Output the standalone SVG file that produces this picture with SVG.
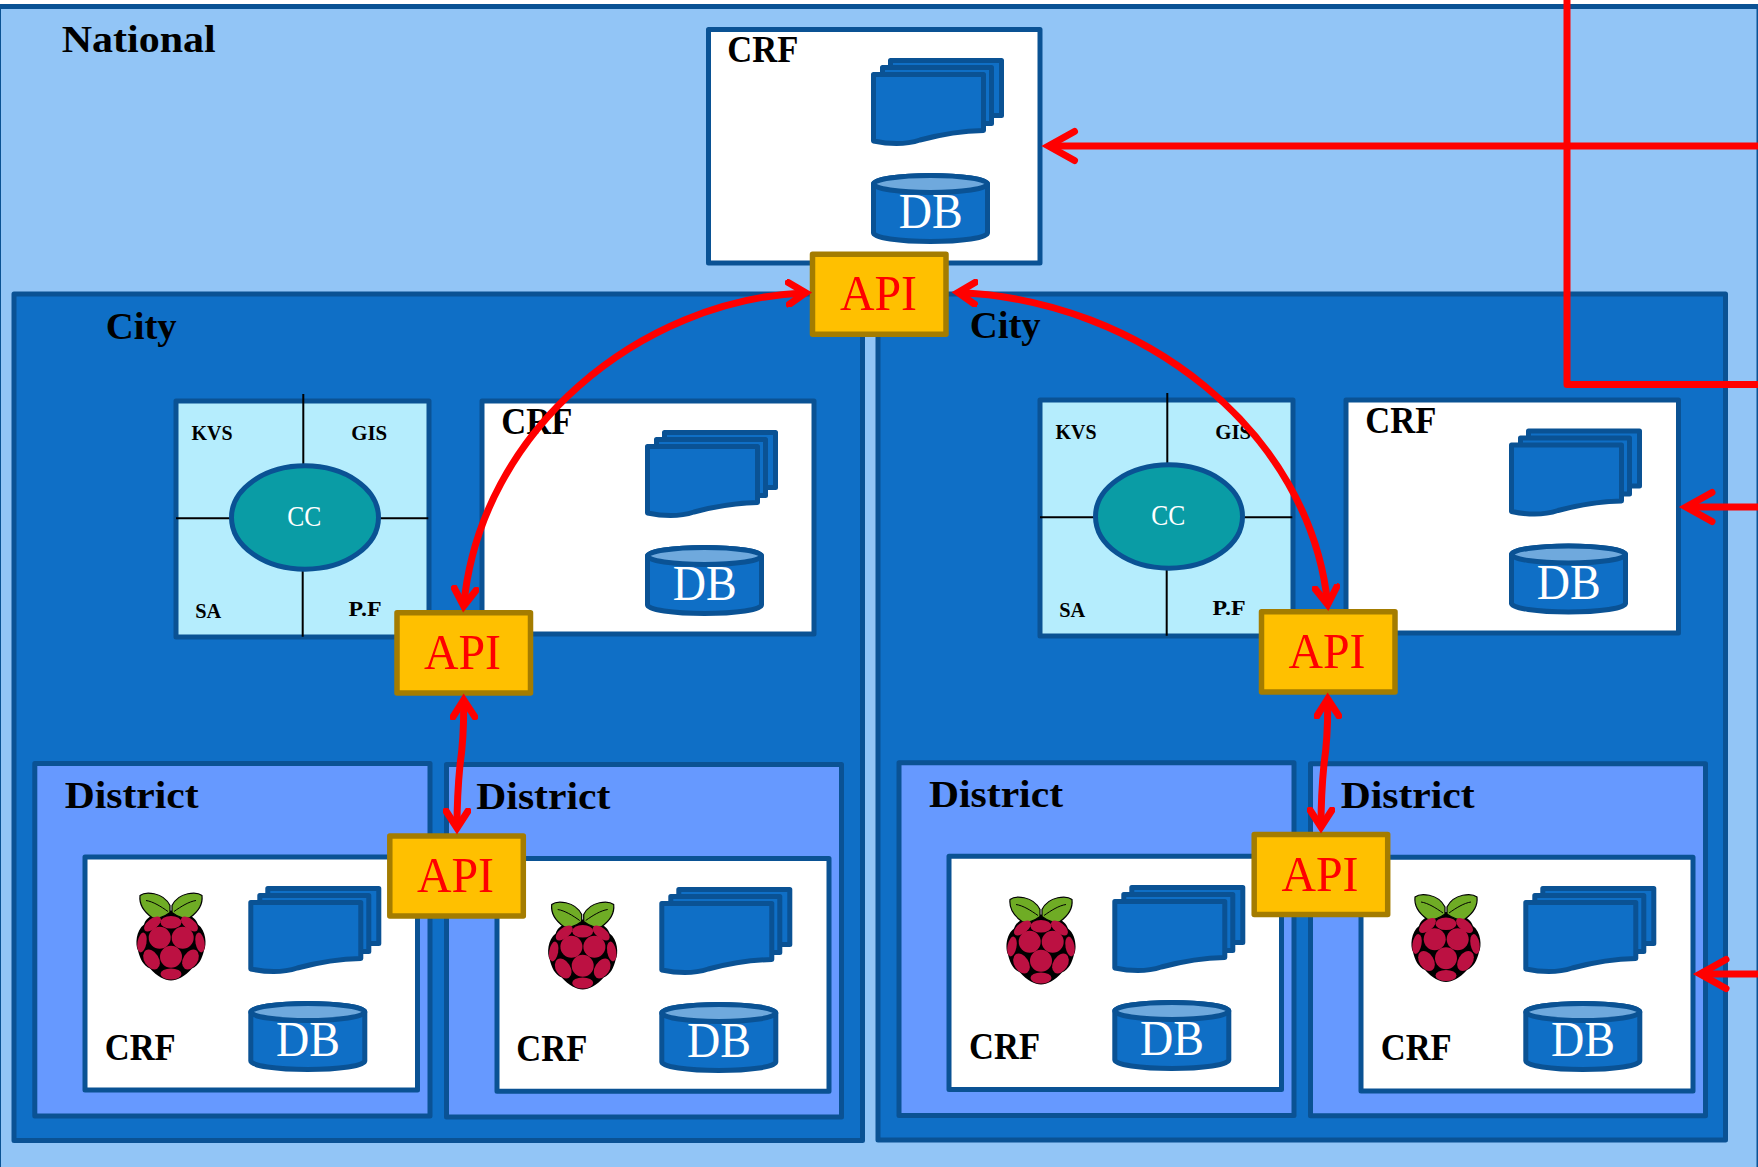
<svg xmlns="http://www.w3.org/2000/svg" xmlns:xlink="http://www.w3.org/1999/xlink" width="1758" height="1167" viewBox="0 0 1758 1167">
<style>
.box{stroke:#0A5294;stroke-width:5;stroke-linejoin:round}
.national{fill:#92C5F6}
.city{fill:#0F6FC6}
.district{fill:#6699FF}
.white{fill:#fff}
.panel{fill:#B5EDFD}
.cc{fill:#0A9CA5}
.doc{fill:#0F6FC6}
.lid{fill:#6FA9DD}
.api{fill:#FFC000;stroke:#A47C00;stroke-width:5.5;stroke-linejoin:round}
.hair{stroke:#000;stroke-width:2;fill:none}
text{font-family:"Liberation Serif","Times New Roman",serif}
.h{font-size:38px;font-weight:bold;fill:#000}
.s{font-size:22px;font-weight:bold;fill:#000}
.db{font-size:50px;fill:#fff;text-anchor:middle}
.apit{font-size:50px;fill:#f00;text-anchor:middle}
.cct{font-size:30px;fill:#fff;text-anchor:middle}
.red{fill:none;stroke:#f00;stroke-width:7;stroke-linejoin:round}
.curve{marker-start:url(#open);marker-end:url(#open)}
.one{marker-end:url(#big)}
.berry{fill:#BC1142}
.leaf{fill:#6FAC25;stroke:#000;stroke-width:1.2}
</style>
<defs>
<marker id="open" viewBox="-20 -14 30 28" markerWidth="30" markerHeight="28" refX="0" refY="0" orient="auto-start-reverse" markerUnits="userSpaceOnUse">
<path d="M-17,-11 L0,0 L-17,11" fill="none" stroke="#f00" stroke-width="7" stroke-linecap="round" stroke-linejoin="miter"/>
</marker>
<marker id="big" viewBox="-32 -20 44 40" markerWidth="44" markerHeight="40" refX="0" refY="0" orient="auto" markerUnits="userSpaceOnUse">
<path d="M-26,-14.5 L0,0 L-26,14.5" fill="none" stroke="#f00" stroke-width="7" stroke-linecap="round" stroke-linejoin="miter"/>
</marker>
<g id="store">
<rect class="box doc" x="890.5" y="60.5" width="111" height="55"/>
<rect class="box doc" x="882.5" y="67.5" width="109" height="56"/>
<path class="box doc" d="M873.5,74.5 H983.5 V130.5 C955,131 935,136 920,140 C905,145 890,144.5 873.5,141 Z"/>
<path class="box doc" d="M873.5,184 A57,8.5 0 0 1 987.5,184 V233 A57,8.5 0 0 1 873.5,233 Z"/>
<ellipse class="box lid" cx="930.5" cy="184" rx="57" ry="8.5"/>
</g>
<g id="raspberry">
<path fill="#000" d="M0,18 C-10,19 -24,22 -27,32 C-35,38 -36,52 -33,58 C-31,66 -28,73 -21,76 C-14,84 -6,88 0,88 C6,88 14,84 21,76 C28,73 31,66 33,58 C36,52 35,38 27,32 C24,22 10,19 0,18 Z"/>
<path class="leaf" d="M-31,3 C-26,-1 -8,-1 -1,13 L-1,20 C-6,24 -14,27 -19,25 C-26,20 -32,12 -31,3 Z"/>
<path class="leaf" d="M31,3 C26,-1 8,-1 1,13 L1,20 C6,24 14,27 19,25 C26,20 32,12 31,3 Z"/>
<path d="M-25,8 C-18,9 -10,14 -3,19 M25,8 C18,9 10,14 3,19" fill="none" stroke="#000" stroke-width="1"/>
<ellipse class="berry" cx="0" cy="29.7" rx="10.5" ry="6.3"/>
<ellipse class="berry" cx="-18.5" cy="31.5" rx="10" ry="5.2" transform="rotate(-38 -18.5 31.5)"/>
<ellipse class="berry" cx="18.5" cy="31.5" rx="10" ry="5.2" transform="rotate(38 18.5 31.5)"/>
<circle class="berry" cx="-11.3" cy="45.3" r="11"/>
<circle class="berry" cx="11.7" cy="45.3" r="11"/>
<ellipse class="berry" cx="-29" cy="50" rx="4.5" ry="10" transform="rotate(10 -29 50)"/>
<ellipse class="berry" cx="29" cy="50" rx="4.5" ry="10" transform="rotate(-10 29 50)"/>
<circle class="berry" cx="0" cy="64.3" r="11"/>
<ellipse class="berry" cx="-19.5" cy="67" rx="7.2" ry="10.8" transform="rotate(-32 -19.5 67)"/>
<ellipse class="berry" cx="19.5" cy="67" rx="7.2" ry="10.8" transform="rotate(32 19.5 67)"/>
<ellipse class="berry" cx="0" cy="81.5" rx="10.5" ry="5.5"/>
</g>
</defs>
<rect width="1758" height="1167" fill="#fff"/>

<g id="national">
<rect class="box national" x="-1.5" y="6.5" width="1760.5" height="1170"/>
<text class="h" x="61.7" y="51.7" textLength="154" lengthAdjust="spacingAndGlyphs">National</text>
</g>

<g id="national-crf">
<rect class="box white" x="708.5" y="29.5" width="331.5" height="233.5"/>
<text class="h" x="727.3" y="61.7" textLength="71" lengthAdjust="spacingAndGlyphs">CRF</text>
<use href="#store"/>
<text class="db" x="930.8" y="228.3" textLength="64" lengthAdjust="spacingAndGlyphs">DB</text>
</g>

<g id="city-left">
<rect class="box city" x="14" y="294" width="848.5" height="846.5"/>
<text class="h" x="105.7" y="339.3" textLength="71" lengthAdjust="spacingAndGlyphs">City</text>
</g>
<g id="city-right">
<rect class="box city" x="878" y="294" width="847.5" height="846"/>
<text class="h" x="969.7" y="337.7" textLength="71" lengthAdjust="spacingAndGlyphs">City</text>
</g>

<g id="cc-left">
<rect class="box panel" x="176" y="401" width="253" height="236"/>
<path class="hair" d="M303.3,394 V464 M302.7,571 V636.7 M176,518.3 H230 M380,518.3 H428.3"/>
<ellipse class="box cc" cx="305" cy="517.5" rx="73.5" ry="51.7"/>
<text class="cct" x="304.3" y="526" textLength="34" lengthAdjust="spacingAndGlyphs">CC</text>
<text class="s" x="191.5" y="439.5" textLength="41" lengthAdjust="spacingAndGlyphs">KVS</text>
<text class="s" x="351.2" y="439.5" textLength="36" lengthAdjust="spacingAndGlyphs">GIS</text>
<text class="s" x="195.2" y="618" textLength="26" lengthAdjust="spacingAndGlyphs">SA</text>
<text class="s" x="348.5" y="616" textLength="33" lengthAdjust="spacingAndGlyphs">P.F</text>
</g>
<g id="cc-right" transform="translate(864,-1)">
<rect class="box panel" x="176" y="401" width="253" height="236"/>
<path class="hair" d="M303.3,394 V464 M302.7,571 V636.7 M176,518.3 H230 M380,518.3 H428.3"/>
<ellipse class="box cc" cx="305" cy="517.5" rx="73.5" ry="51.7"/>
<text class="cct" x="304.3" y="526" textLength="34" lengthAdjust="spacingAndGlyphs">CC</text>
<text class="s" x="191.5" y="439.5" textLength="41" lengthAdjust="spacingAndGlyphs">KVS</text>
<text class="s" x="351.2" y="439.5" textLength="36" lengthAdjust="spacingAndGlyphs">GIS</text>
<text class="s" x="195.2" y="618" textLength="26" lengthAdjust="spacingAndGlyphs">SA</text>
<text class="s" x="348.5" y="616" textLength="33" lengthAdjust="spacingAndGlyphs">P.F</text>
</g>

<g id="city-left-crf">
<rect class="box white" x="482" y="401" width="332" height="233"/>
<text class="h" x="501.3" y="434" textLength="71" lengthAdjust="spacingAndGlyphs">CRF</text>
<use href="#store" transform="translate(-226,372)"/>
<text class="db" x="704.8" y="600.3" textLength="64" lengthAdjust="spacingAndGlyphs">DB</text>
</g>
<g id="city-right-crf">
<rect class="box white" x="1346" y="400" width="332.5" height="233"/>
<text class="h" x="1365.3" y="433" textLength="71" lengthAdjust="spacingAndGlyphs">CRF</text>
<use href="#store" transform="translate(638,370.5)"/>
<text class="db" x="1568.8" y="598.8" textLength="64" lengthAdjust="spacingAndGlyphs">DB</text>
</g>

<g id="district-1">
<rect class="box district" x="34.8" y="763.5" width="395.2" height="352.5"/>
<text class="h" x="64.7" y="808.3" textLength="134" lengthAdjust="spacingAndGlyphs">District</text>
<rect class="box white" x="85" y="857" width="332.5" height="233"/>
<use href="#raspberry" transform="translate(171,892.5)"/>
<use href="#store" transform="translate(-622.7,828)"/>
<text class="db" x="308.1" y="1056.3" textLength="64" lengthAdjust="spacingAndGlyphs">DB</text>
<text class="h" x="104.7" y="1060" textLength="71" lengthAdjust="spacingAndGlyphs">CRF</text>
</g>
<g id="district-2">
<rect class="box district" x="446.5" y="764.5" width="395" height="352.5"/>
<text class="h" x="476.3" y="808.8" textLength="134" lengthAdjust="spacingAndGlyphs">District</text>
<rect class="box white" x="497" y="858.4" width="332" height="232.9"/>
<use href="#raspberry" transform="translate(582.7,901.5)"/>
<use href="#store" transform="translate(-211.7,829)"/>
<text class="db" x="719.1" y="1057.3" textLength="64" lengthAdjust="spacingAndGlyphs">DB</text>
<text class="h" x="516.3" y="1061.4" textLength="71" lengthAdjust="spacingAndGlyphs">CRF</text>
</g>
<g id="district-3">
<rect class="box district" x="899" y="762.8" width="395" height="352.7"/>
<text class="h" x="929" y="806.7" textLength="134" lengthAdjust="spacingAndGlyphs">District</text>
<rect class="box white" x="949" y="856.3" width="332.5" height="233.2"/>
<use href="#raspberry" transform="translate(1041,896.5)"/>
<use href="#store" transform="translate(241.3,827)"/>
<text class="db" x="1172.1" y="1055.3" textLength="64" lengthAdjust="spacingAndGlyphs">DB</text>
<text class="h" x="969" y="1059" textLength="71" lengthAdjust="spacingAndGlyphs">CRF</text>
</g>
<g id="district-4">
<rect class="box district" x="1310.5" y="763.8" width="395" height="351.9"/>
<text class="h" x="1340.7" y="807.7" textLength="134" lengthAdjust="spacingAndGlyphs">District</text>
<rect class="box white" x="1361" y="857.3" width="332" height="233.7"/>
<use href="#raspberry" transform="translate(1446,894)"/>
<use href="#store" transform="translate(652.3,828)"/>
<text class="db" x="1583.1" y="1056.3" textLength="64" lengthAdjust="spacingAndGlyphs">DB</text>
<text class="h" x="1380.7" y="1059.6" textLength="71" lengthAdjust="spacingAndGlyphs">CRF</text>
</g>

<g id="api-national">
<rect class="api" x="812.5" y="254.2" width="133.5" height="80"/>
<text class="apit" x="878.5" y="310" textLength="77" lengthAdjust="spacingAndGlyphs">API</text>
</g>
<g id="api-city-left">
<rect class="api" x="397" y="612.8" width="133.5" height="80.2"/>
<text class="apit" x="462.5" y="669" textLength="77" lengthAdjust="spacingAndGlyphs">API</text>
</g>
<g id="api-city-right">
<rect class="api" x="1261.5" y="611.8" width="133.5" height="80.2"/>
<text class="apit" x="1327" y="668" textLength="77" lengthAdjust="spacingAndGlyphs">API</text>
</g>
<g id="api-district-left">
<rect class="api" x="389.8" y="836" width="133.5" height="80"/>
<text class="apit" x="455.5" y="892" textLength="77" lengthAdjust="spacingAndGlyphs">API</text>
</g>
<g id="api-district-right">
<rect class="api" x="1254.2" y="834.5" width="133.5" height="80"/>
<text class="apit" x="1320" y="891" textLength="77" lengthAdjust="spacingAndGlyphs">API</text>
</g>

<g id="connectors">
<path class="red" d="M1567,-2 V384.5 H1760"/>
<path class="red one" d="M1760,146 H1048.5"/>
<path class="red one" d="M1760,507 H1686"/>
<path class="red one" d="M1760,974 H1700"/>
<path class="red curve" d="M805.7,292.7 C640,300 480,430 463.7,606"/>
<path class="red curve" d="M958,292.5 C1140,300 1310,430 1327.7,604.5"/>
<path class="red curve" d="M463.7,700 C464,730 463,745 460,765 C458,785 457,805 457,828"/>
<path class="red curve" d="M1327.7,699 C1328,729 1327,744 1324,764 C1322,784 1321,804 1321,827"/>
</g>
</svg>
